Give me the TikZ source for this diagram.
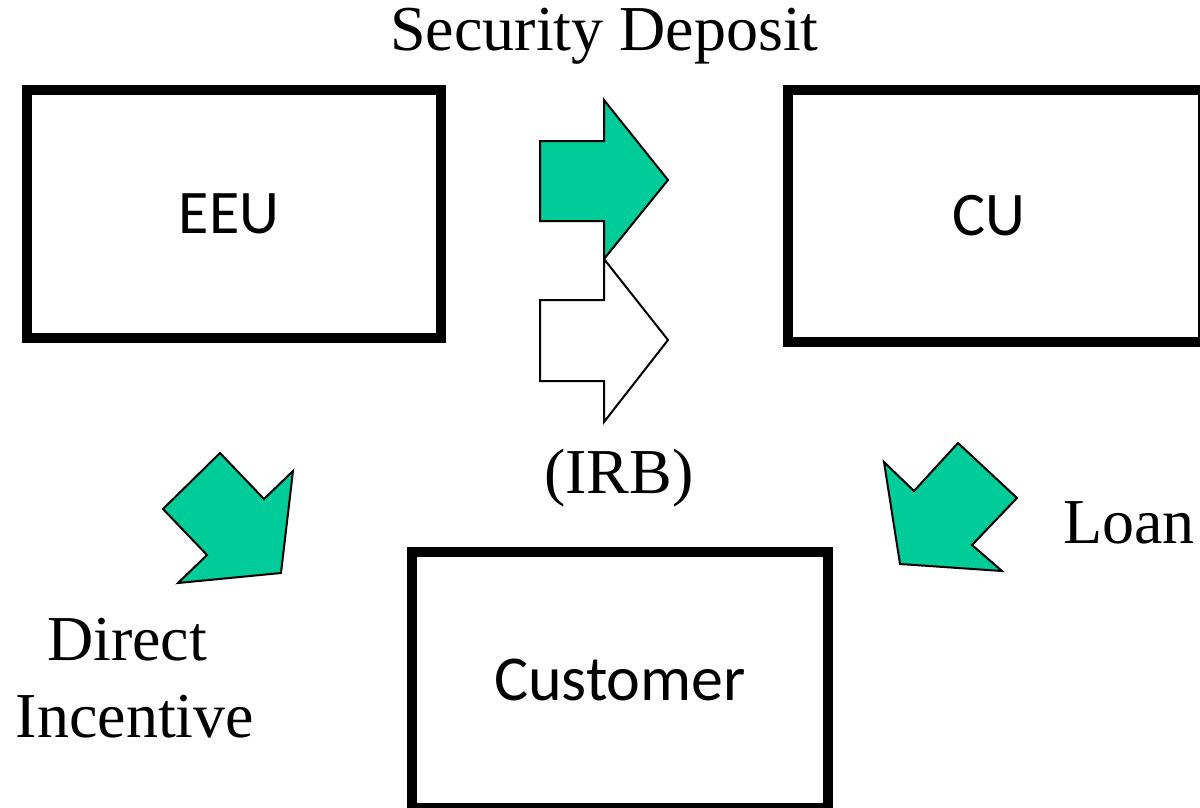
\documentclass[tikz,border=0pt]{standalone}
\usepackage{fontspec}
\setmainfont{Liberation Serif}
\newfontfamily\boxfont{Carlito}
\definecolor{flowgreen}{RGB}{0,204,153}
\tikzset{
  party/.style={draw=black, line width=10pt, fill=white, inner sep=0pt,
    font=\boxfont\fontsize{62}{70}\selectfont},
  flowlabel/.style={inner sep=0pt, anchor=base,
    font=\fontsize{64}{77}\selectfont},
  blockarrow/.style={draw=black, line width=2pt, line join=miter, fill=flowgreen},
  emptyarrow/.style={draw=black, line width=2pt, line join=miter, fill=white}
}
\begin{document}
\begin{tikzpicture}[x=1pt, y=-1pt]
  \useasboundingbox (0,0) rectangle (1200,807);
  \clip (0,0) rectangle (1200,807);

  % the three parties
  \node[party, minimum width=414pt, minimum height=248pt] (eeu) at (234,214)
    {EEU\hspace*{10pt}};
  \node[party, minimum width=415pt, minimum height=252pt] (cu) at (995.5,216)
    {CU\hspace*{14pt}};
  \node[party, minimum width=416pt, minimum height=256pt] (cust) at (620,680)
    {\fontsize{64}{70}\selectfont Customer};

  % security deposit from EEU to CU (filled) and the IRB alternative (empty)
  \draw[blockarrow] (540,141) -- (604,141) -- (604,100) -- (668,180)
    -- (604,259) -- (604,221) -- (540,221) -- cycle;
  \draw[emptyarrow] (540,300) -- (604,300) -- (604,259) -- (668,340)
    -- (604,422) -- (604,381) -- (540,381) -- cycle;

  % direct incentive from EEU to the customer
  \draw[blockarrow] (220,453) -- (264,499) -- (293,471) -- (281,573)
    -- (178,583) -- (207,555) -- (163,509) -- cycle;

  % loan from CU to the customer
  \draw[blockarrow] (958,443) -- (1017,498) -- (972,545) -- (1002,571)
    -- (900,564) -- (884,462) -- (914,491) -- cycle;

  % labels
  \node[flowlabel] (deposit) at (604.5,50) {Security Deposit};
  \node[flowlabel] (irb) at (619,493) {(IRB)};
  \node[flowlabel] (loan) at (1129,543) {Loan};
  \node[flowlabel, anchor=north, align=center] (incentive) at (135,618)
    {Direct\hspace*{.25em}\\Incentive};
\end{tikzpicture}
\end{document}
